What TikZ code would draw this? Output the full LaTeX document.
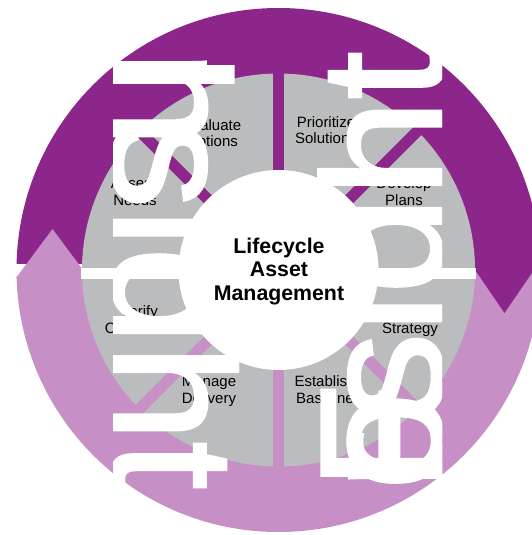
\documentclass[tikz,border=0pt]{standalone}
\usepackage{fontspec}
\setmainfont{Liberation Sans}
\newfontfamily\bigfont[FakeBold=1.5]{Liberation Sans}
\definecolor{darkp}{RGB}{140,38,138}
\definecolor{lightp}{RGB}{198,144,198}
\definecolor{greyseg}{RGB}{187,188,190}
\begin{document}
\begin{tikzpicture}[x=1pt,y=1pt,
  lbl/.style={font=\fontsize{15}{16.5}\selectfont, align=center, anchor=base, inner sep=0pt, text=black},
  ctr/.style={font=\fontsize{21.3}{23.5}\selectfont\bfseries, align=center, anchor=base, inner sep=0pt, text=black},
  bigl/.style={font=\bigfont\fontsize{175}{175}\selectfont, text=white, inner sep=0pt, anchor=base west, rotate=-90},
  bigr/.style={font=\bigfont\fontsize{175}{175}\selectfont, text=white, inner sep=0pt, anchor=base west, rotate=90},
  gapd/.style={darkp, line width=11pt},
  gapl/.style={lightp, line width=11pt}]
\useasboundingbox (0,0) rectangle (532,-535);
\clip (0,0) rectangle (532,-535);
\coordinate (C) at (278.5,-270);
% outer ring halves
\begin{scope}
  \clip (C) circle (262);
  \fill[darkp] (0,0) rectangle (532,-264);
  \fill[lightp] (0,-277) rectangle (532,-535);
  \fill[lightp] (278.5,-264) rectangle (532,-277);
\end{scope}
% arrow heads
\fill[lightp] (16,-278) -- (52.5,-229) -- (89,-278) -- cycle;
\fill[darkp] (471,-264) -- (504.5,-313) -- (538,-264) -- cycle;
% grey segments
\fill[greyseg] (C) circle (196.5);
\foreach \a in {45,90,135} \draw[gapd] (C) -- ++(\a:199);
\foreach \a in {225,270,315} \draw[gapl] (C) -- ++(\a:199);
\draw[white, line width=11pt] (81,-273.5) -- (476,-273.5);
% centre
\fill[white] (C) circle (100);
\node[ctr] (title) at (279,-300) {Lifecycle\\Asset\\Management};
% labels
\node[lbl] (evo) at (212,-146.5) {Evaluate\\Options};
\node[lbl] (pso) at (326,-143.5) {Prioritize\\Solutions};
\node[lbl] (asn) at (135,-205) {Assess\\Needs};
\node[lbl] (dvp) at (404,-205) {Develop\\Plans};
\node[lbl] (vfo) at (139,-333) {Verify\\Outcomes};
\node[lbl] (dfs) at (410,-333) {Define\\Strategy};
\node[lbl] (mgd) at (209,-403) {Manage\\Delivery};
\node[lbl] (esb) at (325,-403) {Establish\\Baseline};
% big white glyphs, left column (reads downwards)
\begin{scope}
  \clip (113,-48) rectangle (239,-495);
  \node[bigl] (l1) at (113,-50) {I};
  \node[bigl] (l2) at (113,-50) {n};
  \node[bigl] (l3) at (113,-120.6) {s};
  \node[bigl] (l4) at (113,-208.1) {i};
  \node[bigl] (l5) at (113,-247) {g};
  \node[bigl] (l6) at (113,-344) {h};
  \node[bigl] (l7) at (113,-441) {t};
\end{scope}
% big white glyphs, right column (reads upwards)
\begin{scope}
  \clip (317,-45) rectangle (442,-495);
  \node[bigr] (r1) at (442,-490) {F};
  \node[bigr] (r2) at (442,-490) {o};
  \node[bigr] (r3) at (442,-490) {r};
  \node[bigr] (r4) at (442,-490) {e};
  \node[bigr] (r5) at (442,-420.4) {s};
  \node[bigr] (r6) at (442,-332.9) {i};
  \node[bigr] (r7) at (442,-294) {g};
  \node[bigr] (r8) at (442,-197) {h};
  \node[bigr] (r9) at (442,-100) {t};
\end{scope}
\end{tikzpicture}
\end{document}
